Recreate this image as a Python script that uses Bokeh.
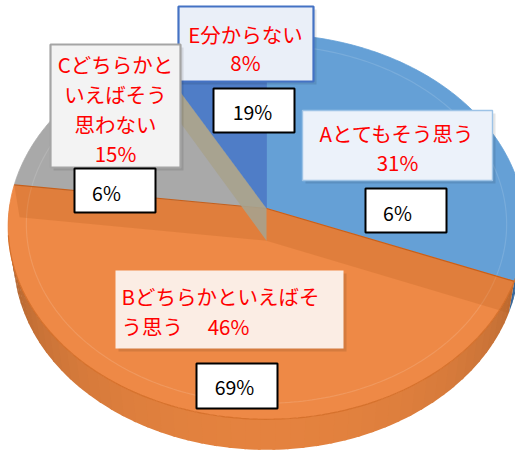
import numpy as np
from bokeh.plotting import figure
from bokeh.models import Range1d
from bokeh.core.properties import value
from bokeh.embed import file_html
from bokeh.resources import INLINE

# ---------------- data ----------------
categories = ["A", "B", "C", "E"]
values = [31, 46, 15, 8]                 # main series (%)
second_values = [6, 69, 6, 19]           # values in the white boxes (%)
label_lines = [
    ["Aとてもそう思う"],
    ["Bどちらかといえばそ", "う思う"],
    ["Cどちらかと", "いえばそう", "思わない"],
    ["E分からない"],
]
top_colors = ["#65a0d6", "#ee8946", "#a9a9a9", "#4f7dc7"]
side_colors = ["#3f78b3", "#d97c3c", "#8a8a8a", "#3b62a8"]

# ---------------- projection of a 3-D pie ----------------
CX, CY = 266.0, 208.0
D = 6.92
E = np.radians(49.2)
FX, FY = 1780.0, 1745.0
H = 0.2


def proj(theta_deg, r=1.0, z=0.0):
    t = np.radians(np.asarray(theta_deg, dtype=float))
    X = r * np.sin(t)
    Y = r * np.cos(t)
    depth = D + Y * np.cos(E) - z * np.sin(E)
    up = Y * np.sin(E) + z * np.cos(E)
    return CX + FX * X / depth, CY - FY * up / depth


p = figure(width=515, height=452, output_backend="svg", toolbar_location=None,
           x_range=Range1d(0, 515), y_range=Range1d(452, 0), min_border=0)
p.axis.visible = False
p.grid.visible = False
p.outline_line_color = None
p.background_fill_color = "white"
p.border_fill_color = "white"

cum = np.concatenate([[0], np.cumsum(values)]) * 3.6
starts, ends = cum[:-1], cum[1:]

# ---- side wall (front part only) ----
side_xs, side_ys, side_cols = [], [], []
for i in range(len(values)):
    a0 = max(starts[i], 88.0)
    a1 = min(ends[i], 272.0)
    if a1 <= a0:
        continue
    n = max(2, int((a1 - a0) / 3) + 1)
    th = np.linspace(a0, a1, n)
    for k in range(n - 1):
        seg = np.linspace(th[k], min(th[k + 1] + 0.6, a1), 4)
        tx, ty = proj(seg, z=0.0)
        bx, by = proj(seg[::-1], z=-H)
        side_xs.append(list(np.concatenate([tx, bx])))
        side_ys.append(list(np.concatenate([ty, by])))
        mid = np.radians(seg.mean())
        shade = 0.62 + 0.38 * max(0.0, -np.cos(mid)) ** 0.6
        base = side_colors[i].lstrip("#")
        rgb = [int(base[j:j + 2], 16) for j in (0, 2, 4)]
        rgb = [int(min(255, c * shade / 0.95)) for c in rgb]
        side_cols.append("#%02x%02x%02x" % tuple(rgb))
p.patches(side_xs, side_ys, fill_color=side_cols, line_color=None)

# ---- top faces ----
for i in range(len(values)):
    th = np.linspace(starts[i], ends[i], 120)
    ax, ay = proj(th)
    xs = np.concatenate([[CX], ax])
    ys = np.concatenate([[CY], ay])
    p.patch(list(xs), list(ys), fill_color=top_colors[i], line_color=top_colors[i], line_width=0.8)

# faint inner bevel ring
th = np.linspace(0, 360, 361)
rx, ry = proj(th, r=0.93)
p.line(list(rx), list(ry), line_color="white", line_alpha=0.13, line_width=1.2)

# ---- translucent cut faces of slice B (seen through the top) ----
b = 1
for ang in (starts[b], ends[b]):
    tx, ty = proj([ang])
    bx, by = proj([ang], z=-H)
    obx, oby = proj([0.0], r=0.0, z=-H)
    p.patch([CX, tx[0], bx[0], obx[0]], [CY, ty[0], by[0], oby[0]],
            fill_color="#b8601e", fill_alpha=0.25, line_color=None)
    p.line([CX, tx[0]], [CY, ty[0]], line_color="#c75f1a", line_width=1.2)

# cut face of C toward E
c = 2
tx, ty = proj([ends[c]])
bx, by = proj([ends[c]], z=-H)
obx, oby = proj([0.0], r=0.0, z=-H)
p.patch([CX, tx[0], bx[0], obx[0]], [CY, ty[0], by[0], oby[0]],
        fill_color="#a7a28d", fill_alpha=0.9, line_color=None)

# front rim line
th = np.linspace(100, 262, 100)
fx_, fy_ = proj(th)
p.line(list(fx_), list(fy_), line_color="#d06a24", line_width=1.2, line_alpha=0.8)

# ---------------- label boxes ----------------
FONT_J = value("Noto Sans CJK JP")
RED = "#ff0000"
FS = "20.5px"

# (left, right, top, bottom, fill, border, border width)
boxes = {
    "E": (178, 313, 6, 81, "#eaeff8", "#4472c4", 2.2),
    "C": (50, 180, 44, 167, "#f3f3f3", "#a5a5a5", 2.2),
    "A": (302, 492, 110, 180, "#ecf2fa", "#9dc3e6", 1.4),
    "B": (115, 343, 270, 348, "#fbede4", None, 0),
}
for k, (l, r_, t, bt, fc, lc, lw) in boxes.items():
    p.quad(left=[l + 3], right=[r_ + 3], top=[t + 3], bottom=[bt + 3],
           fill_color="black", fill_alpha=0.10, line_color=None)
    p.quad(left=[l], right=[r_], top=[t], bottom=[bt], fill_color=fc,
           line_color=lc, line_width=lw)

idx = {c: i for i, c in enumerate(categories)}

# E
i = idx["E"]
p.text(x=[245], y=[33], text=[label_lines[i][0]], text_color=RED, text_font=FONT_J,
       text_font_size=FS, text_align="center", text_baseline="middle")
p.text(x=[245], y=[61], text=[f"{values[i]}%"], text_color=RED, text_font=FONT_J,
       text_font_size=FS, text_align="center", text_baseline="middle")
# C
i = idx["C"]
for j, (ln, yy) in enumerate(zip(label_lines[i] + [f"{values[i]}%"], [63, 93, 123, 152])):
    p.text(x=[115], y=[yy], text=[ln], text_color=RED, text_font=FONT_J,
           text_font_size=FS, text_align="center", text_baseline="middle")
# A
i = idx["A"]
p.text(x=[397], y=[132], text=[label_lines[i][0]], text_color=RED, text_font=FONT_J,
       text_font_size=FS, text_align="center", text_baseline="middle")
p.text(x=[397], y=[161], text=[f"{values[i]}%"], text_color=RED, text_font=FONT_J,
       text_font_size=FS, text_align="center", text_baseline="middle")
# B
i = idx["B"]
p.text(x=[121], y=[295], text=[label_lines[i][0]], text_color=RED, text_font=FONT_J,
       text_font_size=FS, text_align="left", text_baseline="middle")
p.text(x=[121], y=[325], text=[label_lines[i][1]], text_color=RED, text_font=FONT_J,
       text_font_size=FS, text_align="left", text_baseline="middle")
p.text(x=[228], y=[325], text=[f"{values[i]}%"], text_color=RED, text_font=FONT_J,
       text_font_size=FS, text_align="center", text_baseline="middle")

# ---------------- white boxes with second values ----------------
white = {
    "E": (213, 294, 88, 132, 252, 111),
    "C": (74, 155, 168, 212, 106, 192),
    "A": (365, 446, 188, 232, 397, 212),
    "B": (196, 277, 363, 408, 234, 386),
}
for k, (l, r_, t, bt, tx_, ty_) in white.items():
    p.quad(left=[l], right=[r_], top=[t], bottom=[bt], fill_color="white",
           line_color="black", line_width=2)
    p.text(x=[tx_], y=[ty_], text=[f"{second_values[idx[k]]}%"], text_color="black",
           text_font=FONT_J, text_font_size="19.5px", text_align="center",
           text_baseline="middle")

open("out.html", "w").write(file_html(p, INLINE))
